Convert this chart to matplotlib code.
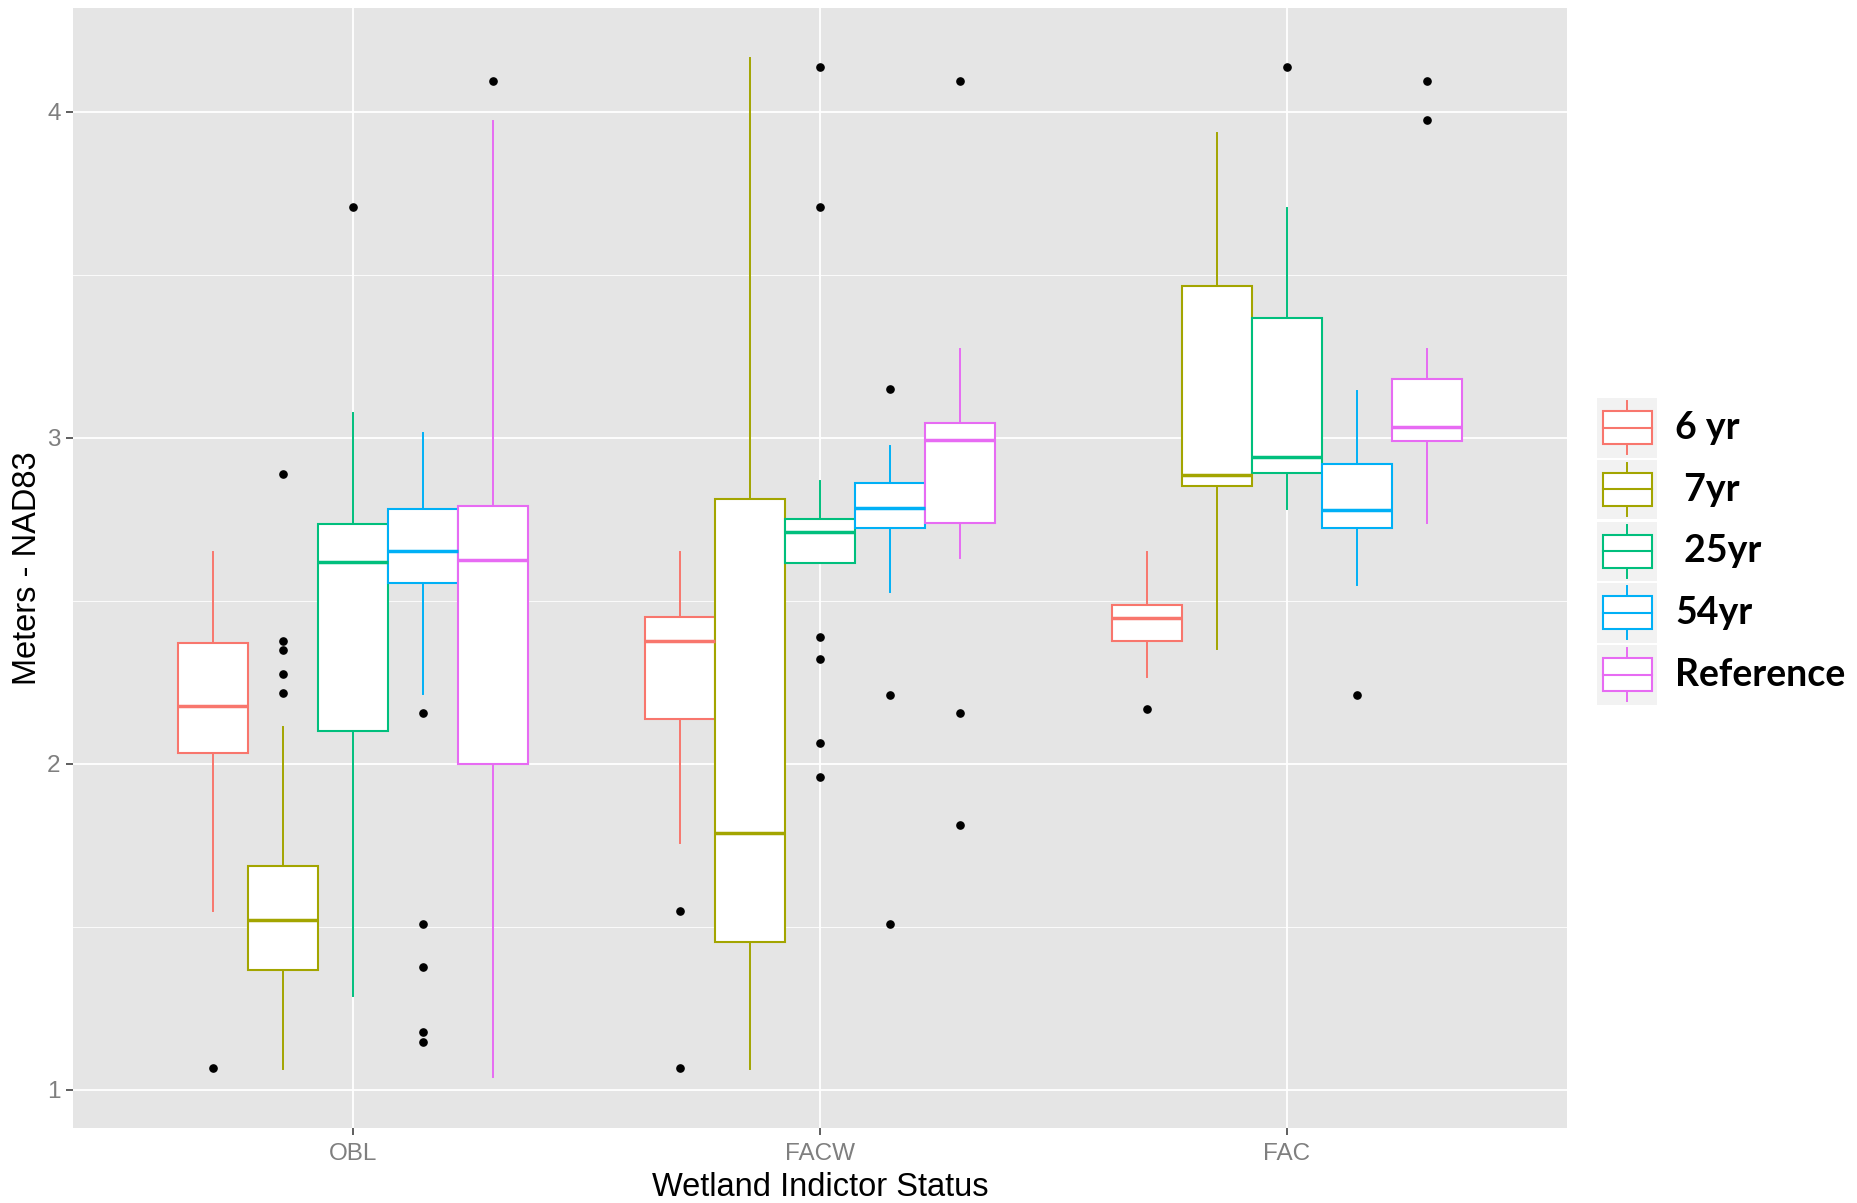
import matplotlib
matplotlib.use('Agg')
import matplotlib.pyplot as plt
from matplotlib.patches import Rectangle

plt.rcParams['font.family'] = ['Liberation Sans', 'DejaVu Sans']

categories = ['OBL', 'FACW', 'FAC']
series = ['6 yr', '7yr', '25yr', '54yr', 'Reference']
legend_labels = ['6 yr', ' 7yr', ' 25yr', '54yr', 'Reference']
colors = ['#F8766D', '#A3A500', '#00BF7D', '#00B0F6', '#E76BF3']

# box statistics per series, one value per category (OBL, FACW, FAC)
whislo = [[1.549, 1.756, 2.265],
          [1.062, 1.062, 2.353],
          [1.287, 2.617, 2.782],
          [2.213, 2.528, 2.549],
          [1.040, 2.632, 2.738]]
q1 = [[2.032, 2.138, 2.375],
      [1.367, 1.454, 2.851],
      [2.100, 2.617, 2.891],
      [2.554, 2.724, 2.724],
      [1.998, 2.738, 2.989]]
med = [[2.177, 2.375, 2.447],
       [1.520, 1.786, 2.887],
       [2.619, 2.710, 2.942],
       [2.654, 2.784, 2.778],
       [2.625, 2.993, 3.033]]
q3 = [[2.370, 2.451, 2.487],
      [1.687, 2.811, 3.465],
      [2.736, 2.751, 3.367],
      [2.781, 2.862, 2.920],
      [2.792, 3.047, 3.182]]
whishi = [[2.651, 2.651, 2.651],
          [2.114, 4.167, 3.935],
          [3.076, 2.869, 3.705],
          [3.015, 2.975, 3.145],
          [3.971, 3.273, 3.273]]
fliers = [[[1.065], [1.549, 1.065], [2.167]],
          [[2.888, 2.378, 2.349, 2.275, 2.218], [], []],
          [[3.709], [4.138, 3.709, 2.390, 2.320, 2.063, 1.960], [4.138]],
          [[2.155, 1.509, 1.375, 1.178, 1.145], [3.149, 2.212, 1.507], [2.211]],
          [[4.095], [4.095, 2.155, 1.811], [4.095, 3.975]]]

fig = plt.figure(figsize=(18.57, 12.03), dpi=100)
ax = fig.add_axes([73 / 1857, 75 / 1203, 1494 / 1857, 1120 / 1203])
ax.set_facecolor('#E5E5E5')
for s in ax.spines.values():
    s.set_visible(False)

width = 0.15
for j, name in enumerate(series):
    c = colors[j]
    stats = []
    for i in range(len(categories)):
        stats.append(dict(whislo=whislo[j][i], q1=q1[j][i], med=med[j][i],
                          q3=q3[j][i], whishi=whishi[j][i], fliers=fliers[j][i]))
    pos = [i + 1 + (j - 2) * width for i in range(len(categories))]
    ax.bxp(stats, positions=pos, widths=width, patch_artist=True, showcaps=False,
           manage_ticks=False,
           boxprops=dict(facecolor='white', edgecolor=c, linewidth=1.5),
           whiskerprops=dict(color=c, linewidth=1.4),
           medianprops=dict(color=c, linewidth=2.5, solid_capstyle='butt'),
           flierprops=dict(marker='o', markerfacecolor='black', markeredgecolor='black',
                           markersize=5.2, linestyle='none'))

ax.set_xlim(0.4, 3.6)
ax.set_ylim(0.882, 4.319)
ax.set_xticks([1, 2, 3])
ax.set_xticklabels(categories)
ax.set_yticks([1, 2, 3, 4])
ax.set_yticklabels(['1', '2', '3', '4'])
ax.set_yticks([1.5, 2.5, 3.5], minor=True)
ax.tick_params(axis='y', which='minor', length=0)
ax.tick_params(which='major', colors='#333333', labelcolor='#7F7F7F', labelsize=17.5,
               length=5, width=1.1, pad=4)
ax.tick_params(axis='x', which='major', pad=6)
ax.set_axisbelow(True)
ax.grid(which='major', color='white', linewidth=1.3)
ax.grid(which='minor', axis='y', color='white', linewidth=0.6)

ax.set_xlabel('Wetland Indictor Status', fontsize=23.5, va='baseline')
ax.xaxis.set_label_coords(0.5, -68 / 1120)
ax.set_ylabel('Meters - NAD83', fontsize=23.5, va='center')
ax.yaxis.set_label_coords(-45 / 1494, 0.5)

# legend drawn in pixel units
lax = fig.add_axes([1597 / 1857, (1203 - 707) / 1203, 260 / 1857, 309 / 1203])
lax.set_xlim(0, 260)
lax.set_ylim(309, 0)
lax.axis('off')
step = 61.75
for j, lab in enumerate(legend_labels):
    c = colors[j]
    top = j * step
    lax.add_patch(Rectangle((0, top), 60, 59.5, facecolor='#F2F2F2', edgecolor='none', zorder=1))
    lax.plot([30, 30], [top + 3, top + 56], color=c, linewidth=1.4, zorder=2)
    lax.add_patch(Rectangle((6, top + 13), 49, 33, facecolor='white', edgecolor=c,
                            linewidth=1.5, zorder=3))
    lax.plot([6, 55], [top + 29.5, top + 29.5], color=c, linewidth=1.5, zorder=4)
    lax.text(78, top + 30, lab, fontsize=27, fontweight='bold', family=['Lato', 'DejaVu Sans'],
             va='center', ha='left')

fig.savefig('out.png', dpi=100)
